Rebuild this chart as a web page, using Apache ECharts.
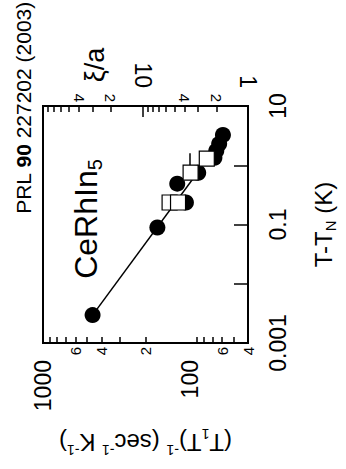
<!DOCTYPE html>
<html><head><meta charset="utf-8">
<script src="https://cdn.jsdelivr.net/npm/echarts@6/dist/echarts.min.js"></script>
<style>html,body{margin:0;padding:0;background:#fff}#c{width:346px;height:469px}</style>
</head><body><div id="c"></div>
<script>
// (T1T)^-1 in sec^-1 K^-1 and T-T_N in K
const filledRelax = [459, 166, 121.5, 106, 87.4, 67.8, 65.8, 62.9, 59.3];
const filledTemp  = [0.00296, 0.089, 0.489, 0.235, 0.748, 1.34, 1.75, 2.30, 3.25];
const openRelax = [137, 120, 98.5, 76.4];
const openTemp  = [0.235, 0.235, 0.748, 1.29];
const fitRelax = [459, 76];
const fitTemp  = [0.00296, 1.25];
// axis ranges
const relaxRange = [40, 1000];
const tempRange = [0.001, 10];
const xiRange = [1, 88.3];
// tick values and tick labels
const relaxMajorTicks = [100];
const relaxMajorLabels = [1000, 100];
const relaxMinorTicks = [900, 800, 700, 600, 500, 400, 300, 200, 90, 80, 70, 60, 50];
const relaxMinorLabels = [600, 400, 200, 60, 40];
const xiMajorTicks = [10];
const xiMajorLabels = [10, 1];
const xiMinorTicks = [80, 70, 60, 50, 40, 30, 20, 9, 8, 7, 6, 5, 4, 3, 2];
const xiMinorLabels = [40, 20, 4, 2];
const tempTicks = [0.01, 0.1, 1];
const tempLabels = [0.001, 0.1, 10];

const L = Math.log10;
const FONT = '"Liberation Sans", Arial, sans-serif';
const fullFmt = v => String(Number(Math.pow(10, v).toPrecision(3)));
const digitFmt = v => String(Math.round(Math.pow(10, v))).charAt(0);

function xAx(pos, range, ticks, tickLen, labels, fontSize, margin, fmt, extra) {
  return Object.assign({
    type: 'value', position: pos, gridIndex: 0,
    min: L(range[0]), max: L(range[1]), inverse: true,
    axisLine: { show: false }, splitLine: { show: false },
    axisTick: { show: ticks.length > 0, inside: true, length: tickLen,
      customValues: ticks.map(L), lineStyle: { color: '#000', width: 1.5 } },
    axisLabel: { show: true, customValues: labels.map(L), rotate: 90, margin: margin,
      fontSize: fontSize, fontFamily: FONT, color: '#000', formatter: fmt,
      showMinLabel: true, showMaxLabel: true, hideOverlap: false }
  }, extra || {});
}

const chart = echarts.init(document.getElementById('c'), null, { renderer: 'svg' });
chart.setOption({
  animation: false,
  backgroundColor: '#fff',
  grid: { left: 43, top: 106, width: 216, height: 237, show: true,
    borderColor: '#000', borderWidth: 2, backgroundColor: 'transparent' },
  xAxis: [
    xAx('bottom', relaxRange, relaxMajorTicks, 12, relaxMajorLabels, 23, 17, fullFmt, {
      name: '(T{sub|1}T){sup|-1} (sec{sup|-1} K{sup|-1})',
      nameLocation: 'middle', nameRotate: 180, nameGap: 84,
      nameTextStyle: { fontSize: 24, fontFamily: FONT, color: '#000', lineHeight: 30,
        rich: {
          sub: { fontSize: 14, fontFamily: FONT, color: '#000', verticalAlign: 'bottom', lineHeight: 14 },
          sup: { fontSize: 14, fontFamily: FONT, color: '#000', verticalAlign: 'top', lineHeight: 14 }
        } }
    }),
    xAx('bottom', relaxRange, relaxMinorTicks, 6, relaxMinorLabels, 15, 4, digitFmt),
    xAx('top', xiRange, xiMajorTicks, 11, xiMajorLabels, 23, 18, fullFmt),
    xAx('top', xiRange, xiMinorTicks, 6, xiMinorLabels, 15, 4, digitFmt)
  ],
  yAxis: [{
    type: 'value', position: 'right', min: L(tempRange[0]), max: L(tempRange[1]),
    axisLine: { show: false }, splitLine: { show: false },
    axisTick: { show: true, inside: true, length: 14, customValues: tempTicks.map(L),
      lineStyle: { color: '#000', width: 1.5 } },
    axisLabel: { customValues: tempLabels.map(L), rotate: 90, margin: 18, fontSize: 23,
      fontFamily: FONT, color: '#000', formatter: fullFmt, showMinLabel: true, showMaxLabel: true },
    name: 'T-T{sub|N} (K)', nameLocation: 'middle', nameRotate: 90, nameGap: 60,
    nameTextStyle: { fontSize: 24, fontFamily: FONT, color: '#000', lineHeight: 30,
      rich: { sub: { fontSize: 15, fontFamily: FONT, color: '#000', verticalAlign: 'bottom', lineHeight: 14 } } }
  }],
  graphic: [
    { type: 'text', x: 23, y: 108, rotation: Math.PI / 2,
      style: { text: 'PRL {b|90} 227202 (2003)', fontSize: 21, fontFamily: FONT, fill: '#000',
        align: 'center', verticalAlign: 'middle',
        rich: { b: { fontSize: 21, fontFamily: FONT, fontWeight: 'bold', fill: '#000' } } } },
    { type: 'text', x: 86, y: 219, rotation: Math.PI / 2, z: 10,
      style: { text: 'CeRhIn{s|5}', fontSize: 32, fontFamily: FONT, fill: '#000', lineHeight: 38,
        align: 'center', verticalAlign: 'middle',
        rich: { s: { fontSize: 20, fontFamily: FONT, fill: '#000', verticalAlign: 'bottom', lineHeight: 20 } } } },
    { type: 'text', x: 95, y: 65, rotation: Math.PI / 2,
      style: { text: 'ξ/a', fontSize: 27, fontFamily: FONT, fill: '#000',
        align: 'center', verticalAlign: 'middle' } }
  ],
  series: [
    { type: 'line', name: 'fit', xAxisIndex: 0, yAxisIndex: 0, symbol: 'none', z: 2,
      lineStyle: { color: '#000', width: 1.5 },
      data: fitRelax.map((v, i) => [L(v), L(fitTemp[i])]) },
    { type: 'scatter', name: 'filled', xAxisIndex: 0, yAxisIndex: 0, symbol: 'circle', symbolSize: 16, z: 3,
      itemStyle: { color: '#000', opacity: 1 },
      data: filledRelax.map((v, i) => [L(v), L(filledTemp[i])]) },
    { type: 'scatter', name: 'open', xAxisIndex: 0, yAxisIndex: 0, symbol: 'rect', symbolSize: 15, z: 4,
      itemStyle: { color: '#fff', borderColor: '#000', borderWidth: 1.2, opacity: 1 },
      data: openRelax.map((v, i) => [L(v), L(openTemp[i])]) }
  ]
});
</script></body></html>
